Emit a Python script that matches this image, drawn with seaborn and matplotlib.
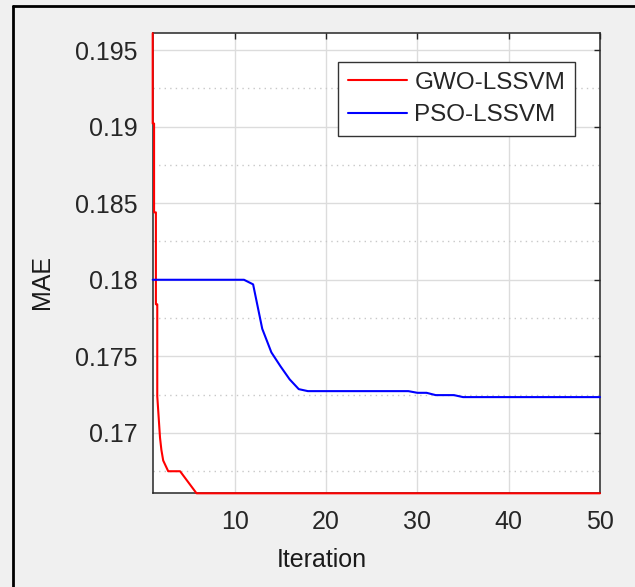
import numpy as np
import pandas as pd
import matplotlib as mpl
import matplotlib.pyplot as plt
import seaborn as sns
from matplotlib.lines import Line2D
from matplotlib.ticker import FixedLocator, MultipleLocator

# GWO-LSSVM 收敛曲线（前几次迭代下降很快）
gwo_iter = [1.0, 1.0, 1.15, 1.15, 1.35, 1.35, 1.5, 1.5, 1.8, 1.95, 2.15, 2.7, 4.0, 5.8, 50.0]
gwo_mae = [0.1961, 0.1902, 0.1902, 0.1844, 0.1844, 0.1784, 0.1784, 0.1724,
           0.1697, 0.1689, 0.1682, 0.1675, 0.1675, 0.16606, 0.16606]

# PSO-LSSVM 收敛曲线（每次迭代一个值）
pso_iter = list(range(1, 51))
pso_mae = ([0.1800] * 11
           + [0.1797, 0.1768, 0.17526, 0.17435, 0.1735, 0.17286]
           + [0.17273] * 12
           + [0.17262] * 2
           + [0.17247] * 3
           + [0.17234] * 16)

series_names = ['GWO-LSSVM', 'PSO-LSSVM']
xtick_vals = [10, 20, 30, 40, 50]
ytick_vals = [0.17, 0.175, 0.18, 0.185, 0.19, 0.195]
ytick_labels = ['0.17', '0.175', '0.18', '0.185', '0.19', '0.195']

sns.set_style('white')
plt.rcParams['font.family'] = ['Liberation Sans', 'DejaVu Sans']
plt.rcParams['xtick.direction'] = 'in'
plt.rcParams['ytick.direction'] = 'in'

W, H = 635, 587
fig = plt.figure(figsize=(W / 100, H / 100), dpi=100, facecolor='#f0f0f0')
ax = fig.add_axes([152.7 / W, 1 - 493.3 / H, (600 - 152.7) / W, (493.3 - 32.7) / H])
ax.set_facecolor('white')

sns.lineplot(x=gwo_iter, y=gwo_mae, ax=ax, color='#ff0000', lw=1.5, zorder=3,
             estimator=None, sort=False, label=series_names[0], clip_on=False)
sns.lineplot(x=pso_iter, y=pso_mae, ax=ax, color='#0000ff', lw=1.5, zorder=3,
             estimator=None, sort=False, label=series_names[1], clip_on=False)

ax.set_xlim(1, 50)
ax.set_ylim(0.16606, 0.19613)
ax.xaxis.set_major_locator(FixedLocator(xtick_vals))
ax.yaxis.set_major_locator(FixedLocator(ytick_vals))
ax.set_yticklabels(ytick_labels)
ax.yaxis.set_minor_locator(MultipleLocator(0.0025))

ax.grid(True, which='major', color='#dcdcdc', lw=1.0)
ax.grid(True, which='minor', axis='y', color='#c8c8c8', lw=1.0, ls=(0, (1, 3)))
ax.set_axisbelow(True)

tc = '#262626'
for s in ax.spines.values():
    s.set_color(tc)
    s.set_linewidth(1.1)
    s.set_zorder(2.5)
ax.tick_params(which='major', length=4, width=1, color=tc, labelcolor=tc,
               labelsize=18, top=True, right=True)
ax.tick_params(axis='x', pad=12)
ax.tick_params(axis='y', pad=11)
ax.tick_params(which='minor', length=0)

ax.set_xlabel('')
ax.set_ylabel('')
fig.text(322 / W, 1 - 560 / H, 'Iteration', fontsize=18, color='#1a1a1a',
         ha='center', va='center')
fig.text(42 / W, 1 - 282 / H, 'MAE', fontsize=18, color='#1a1a1a',
         ha='center', va='center', rotation=90)

leg = ax.legend(loc='upper right', bbox_to_anchor=(0.944, 0.936), borderaxespad=0,
                fontsize=17.5, fancybox=False, framealpha=1, edgecolor='#333333',
                handlelength=2.45, handletextpad=0.3, labelspacing=0.42,
                borderpad=0.4)
leg.get_frame().set_linewidth(1.0)
leg.set_zorder(5)
for t in leg.get_texts():
    t.set_color(tc)

# 截图外框（上边和左边的黑线）
fig.add_artist(Line2D([12.5 / W, 1], [1 - 6 / H, 1 - 6 / H], color='black', lw=2,
                      transform=fig.transFigure))
fig.add_artist(Line2D([12.5 / W, 12.5 / W], [0, 1 - 6 / H], color='black', lw=2,
                      transform=fig.transFigure))

fig.savefig('out.png', dpi=100, facecolor=fig.get_facecolor())
